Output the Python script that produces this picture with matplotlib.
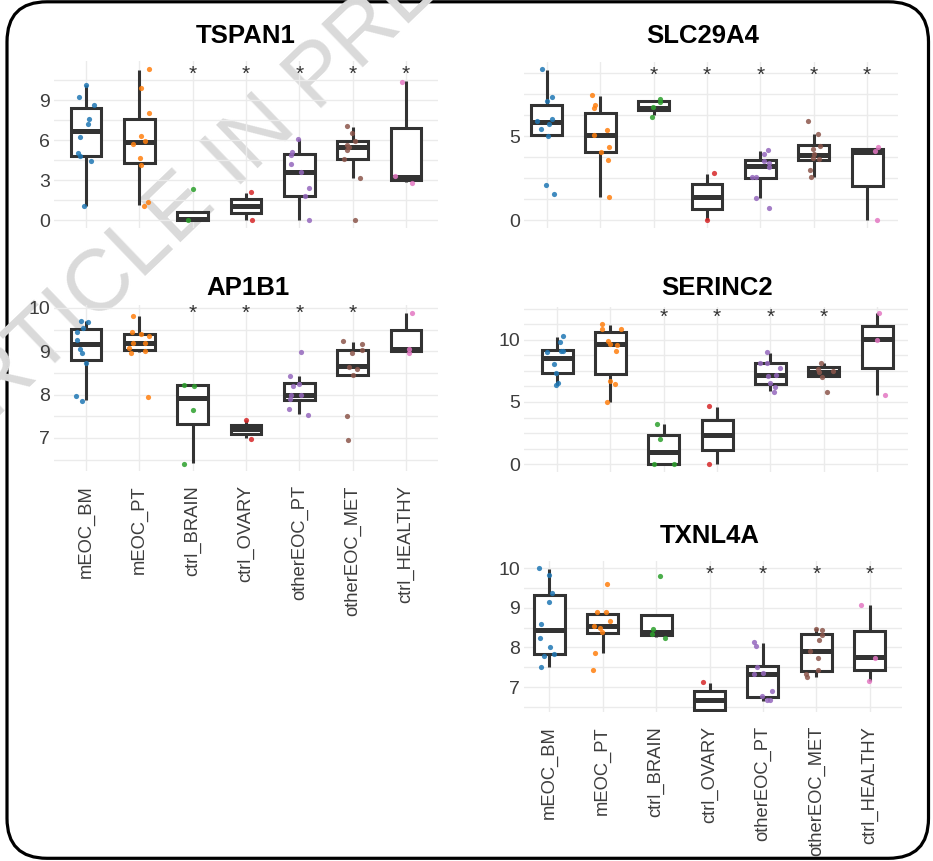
import matplotlib
matplotlib.use('Agg')
import matplotlib.pyplot as plt
from matplotlib.patches import FancyBboxPatch

plt.rcParams['font.family'] = ['Liberation Sans', 'DejaVu Sans']

groups = ['mEOC_BM', 'mEOC_PT', 'ctrl_BRAIN', 'ctrl_OVARY',
          'otherEOC_PT', 'otherEOC_MET', 'ctrl_HEALTHY']
colors = ['#1f77b4', '#ff7f0e', '#2ca02c', '#d62728',
          '#9467bd', '#8c564b', '#e377c2']

# ---------------- TSPAN1 ----------------
# box stats per group: [whisker low, q1, median, q3, whisker high]
tspan1_box = [[1.07, 4.83, 6.68, 8.40, 10.10],
              [1.10, 4.25, 5.82, 7.60, 11.25],
              [0.00, 0.00, 0.05, 0.60, 0.60],
              [0.00, 0.50, 1.02, 1.58, 2.05],
              [0.00, 1.80, 3.60, 4.93, 6.05],
              [3.18, 4.55, 5.50, 5.95, 7.00],
              [2.88, 3.00, 3.25, 6.88, 10.40]]
tspan1_pts = [[10.1, 9.25, 8.6, 7.6, 7.2, 6.2, 5.0, 4.8, 4.4, 1.07],
              [11.3, 9.9, 8.0, 6.3, 5.95, 5.72, 4.68, 4.15, 1.38, 1.07],
              [2.3, 0.0],
              [2.08, 0.0],
              [6.08, 5.1, 4.9, 4.18, 3.6, 2.42, 1.8, 0.0],
              [7.05, 6.55, 5.93, 5.6, 5.5, 5.22, 4.6, 3.15, 0.0],
              [10.38, 3.28, 2.78]]
tspan1_jit = [[0.0, -0.125, 0.156, 0.06, 0.044, -0.106, -0.156, -0.11, 0.094, -0.04],
              [0.19, 0.04, 0.19, 0.03, 0.11, -0.11, 0.01, 0.03, 0.16, 0.09],
              [0.0, -0.09],
              [0.10, 0.11],
              [-0.03, -0.14, -0.16, -0.16, 0.04, 0.19, 0.11, 0.19],
              [-0.11, -0.02, 0.05, -0.11, -0.06, -0.10, -0.16, 0.14, 0.05],
              [-0.08, -0.20, 0.11]]
tspan1_sig = [0, 0, 1, 1, 1, 1, 1]
tspan1_star = 11.38

# ---------------- AP1B1 ----------------
ap1b1_box = [[7.88, 8.79, 9.17, 9.52, 9.69],
             [8.98, 9.02, 9.19, 9.40, 9.81],
             [6.42, 7.33, 7.92, 8.22, 8.22],
             [7.00, 7.08, 7.20, 7.31, 7.41],
             [7.55, 7.88, 8.00, 8.27, 8.42],
             [8.46, 8.46, 8.65, 9.02, 9.22],
             [9.00, 9.00, 9.05, 9.48, 9.88]]
ap1b1_pts = [[9.69, 9.68, 9.54, 9.45, 9.27, 9.05, 8.96, 8.73, 7.96, 7.86],
             [9.82, 9.45, 9.41, 9.35, 9.19, 9.19, 9.08, 9.0, 8.95, 7.94],
             [8.23, 8.21, 7.64, 6.41],
             [7.41, 6.98],
             [8.98, 8.44, 8.25, 8.21, 7.99, 7.98, 7.9, 7.67, 7.54],
             [9.23, 9.17, 9.02, 8.95, 8.64, 8.59, 8.46, 7.5, 6.95],
             [9.88, 9.05, 8.96]]
ap1b1_jit = [[-0.09, 0.03, -0.05, -0.16, -0.16, -0.11, -0.075, 0.006, -0.19, -0.075],
             [-0.11, -0.14, 0.04, 0.19, -0.125, 0.11, -0.19, 0.11, -0.15, 0.17],
             [-0.16, 0.02, 0.01, -0.16],
             [0.0, 0.10],
             [0.025, -0.17, 0.0, -0.12, -0.16, 0.04, -0.17, -0.19, 0.16],
             [-0.175, 0.17, 0.175, -0.01, -0.06, 0.09, 0.0, -0.10, -0.09],
             [0.11, 0.05, 0.06]]
ap1b1_sig = [0, 0, 1, 1, 1, 1, 0]
ap1b1_star = 10.02

# ---------------- SLC29A4 ----------------
slc29a4_box = [[5.00, 5.06, 5.81, 6.83, 8.93],
               [1.39, 4.07, 5.06, 6.35, 7.40],
               [6.25, 6.55, 6.69, 7.08, 7.14],
               [0.00, 0.63, 1.39, 2.12, 2.74],
               [1.33, 2.50, 3.20, 3.55, 4.10],
               [2.58, 3.57, 3.87, 4.44, 5.10],
               [0.00, 2.04, 4.07, 4.23, 4.23]]
slc29a4_pts = [[8.97, 7.34, 7.08, 5.99, 5.87, 5.73, 5.42, 5.0, 2.06, 1.53],
               [7.44, 6.83, 6.69, 5.36, 5.08, 4.33, 4.03, 3.57, 1.39],
               [7.2, 7.0, 6.75, 6.13],
               [2.78, 0.0],
               [4.15, 3.93, 3.51, 3.39, 3.13, 2.56, 2.56, 1.31, 0.69],
               [5.89, 5.14, 4.42, 4.25, 3.91, 3.69, 3.65, 3.0, 2.56],
               [4.35, 4.13, 0.0]]
slc29a4_jit = [[-0.09, 0.09, 0.01, 0.10, -0.19, 0.04, -0.11, 0.025, -0.02, 0.125],
               [-0.16, -0.09, -0.11, 0.125, -0.125, 0.17, 0.02, 0.14, 0.16],
               [0.125, 0.11, -0.01, -0.04],
               [0.14, 0.0],
               [0.14, 0.075, 0.06, 0.17, 0.17, -0.15, -0.075, -0.075, 0.16],
               [-0.11, 0.075, 0.11, -0.02, 0.0, -0.02, 0.10, -0.075, -0.06],
               [0.20, 0.14, 0.19]]
slc29a4_sig = [0, 0, 1, 1, 1, 1, 1]
slc29a4_star = 8.97

# ---------------- SERINC2 ----------------
serinc2_box = [[6.37, 7.31, 8.52, 9.19, 10.27],
               [5.03, 7.23, 9.65, 10.67, 11.21],
               [0.00, 0.00, 0.97, 2.37, 3.20],
               [0.00, 1.13, 2.34, 3.55, 4.62],
               [5.89, 6.45, 7.18, 8.12, 8.98],
               [7.12, 7.12, 7.45, 7.80, 8.12],
               [5.56, 7.77, 10.05, 11.13, 12.15]]
serinc2_pts = [[10.32, 9.87, 9.14, 9.11, 9.06, 8.06, 7.37, 6.53, 6.4],
               [11.26, 10.86, 10.86, 9.95, 9.68, 9.6, 9.09, 6.69, 6.45, 5.03],
               [3.25, 2.02, 0.0, 0.0],
               [4.68, 0.0],
               [9.03, 8.17, 8.12, 7.72, 7.18, 7.12, 6.56, 6.18, 5.81],
               [8.17, 7.66, 7.47, 7.45, 7.04, 5.78],
               [12.2, 10.0, 5.59]]
serinc2_jit = [[0.11, 0.05, 0.08, 0.11, -0.19, -0.06, -0.025, 0.025, -0.02],
               [-0.15, -0.16, 0.19, -0.04, 0.0, 0.12, 0.10, -0.006, 0.09, -0.06],
               [-0.13, -0.075, -0.19, 0.19],
               [-0.15, -0.15],
               [-0.06, -0.06, -0.20, 0.175, 0.10, -0.04, 0.0, 0.09, 0.075],
               [-0.06, -0.11, 0.17, -0.09, -0.04, 0.06],
               [0.03, 0.0, 0.15]]
serinc2_sig = [0, 0, 1, 1, 1, 1, 0]
serinc2_star = 12.37

# ---------------- TXNL4A ----------------
txnl4a_box = [[7.50, 7.84, 8.43, 9.31, 9.98],
              [7.86, 8.37, 8.53, 8.83, 8.83],
              [8.25, 8.30, 8.39, 8.81, 8.81],
              [6.22, 6.42, 6.67, 6.91, 7.11],
              [6.65, 6.76, 7.34, 7.53, 8.11],
              [7.25, 7.40, 7.92, 8.34, 8.49],
              [7.15, 7.42, 7.76, 8.40, 9.06]]
txnl4a_pts = [[10.0, 9.82, 9.37, 9.15, 8.6, 8.23, 8.01, 7.82, 7.78, 7.5],
              [9.61, 8.88, 8.88, 8.66, 8.54, 8.5, 8.38, 7.85, 7.42],
              [9.79, 8.47, 8.33, 8.24],
              [7.13, 6.21],
              [8.13, 8.03, 7.51, 7.36, 7.34, 6.91, 6.78, 6.68, 6.66],
              [8.46, 8.43, 8.32, 8.18, 7.92, 7.73, 7.44, 7.32, 7.24],
              [9.06, 7.74, 7.14]]
txnl4a_jit = [[-0.19, -0.01, 0.06, 0.0, -0.15, -0.17, 0.025, 0.09, -0.09, -0.15],
              [0.075, -0.11, 0.06, 0.13, -0.16, -0.04, -0.01, -0.14, -0.175],
              [0.075, -0.05, -0.07, 0.16],
              [-0.13, 0.14],
              [-0.17, -0.14, -0.11, 0.0, -0.175, 0.175, -0.025, 0.08, 0.14],
              [-0.01, 0.10, 0.11, 0.05, -0.125, 0.02, 0.02, -0.20, -0.17],
              [-0.16, 0.09, -0.01]]
txnl4a_sig = [0, 0, 0, 1, 1, 1, 1]
txnl4a_star = 10.0

# ---------------- figure ----------------
W, H = 933, 861
fig = plt.figure(figsize=(W / 100, H / 100), dpi=100)

# background overlay (frame + watermark), pixel coordinates
bg = fig.add_axes([0, 0, 1, 1], zorder=-5)
bg.set_xlim(0, W)
bg.set_ylim(H, 0)
bg.axis('off')
bg.text(226, 168, 'ARTICLE IN PRESS', rotation=43.8, rotation_mode='anchor',
        ha='center', va='center', fontsize=63, color='#dadada')
bg.add_patch(FancyBboxPatch((7, 1.8), 921.5, 856.5,
                            boxstyle='round,pad=0,rounding_size=40',
                            fill=False, edgecolor='black', linewidth=2.3))

INK = '#333333'
TICK = '#3d3d3d'
GRID = '#ebebeb'


def axes_px(left, right, top, bottom):
    return fig.add_axes([left / W, 1 - bottom / H, (right - left) / W, (bottom - top) / H])


def panel(ax, title, title_xy, box, pts, jit, sig, star_y, xlim, ylim,
          grid_vals, tick_vals, show_x):
    ax.patch.set_visible(False)
    for s in ax.spines.values():
        s.set_visible(False)
    stats = [dict(whislo=b[0], q1=b[1], med=b[2], q3=b[3], whishi=b[4], fliers=[])
             for b in box]
    ax.bxp(stats, positions=list(range(len(groups))), widths=0.58,
           showfliers=False, showcaps=False, patch_artist=True, manage_ticks=False,
           boxprops=dict(facecolor='white', edgecolor=INK, linewidth=2.2),
           whiskerprops=dict(color=INK, linewidth=2.2, solid_capstyle='butt'),
           medianprops=dict(color=INK, linewidth=3.6, solid_capstyle='butt'),
           zorder=2)
    for i, (vals, offs) in enumerate(zip(pts, jit)):
        ax.scatter([i + o for o in offs], vals, s=14, color=colors[i],
                   alpha=0.85, linewidths=0, zorder=3)
    for i, flag in enumerate(sig):
        if flag:
            ax.annotate('*', (i, star_y), xytext=(0, -8.5), textcoords='offset points',
                        ha='center', va='baseline', fontsize=15, color=INK, zorder=4)
    ax.set_xlim(*xlim)
    ax.set_ylim(*ylim)
    ax.set_xticks(range(len(groups)))
    ax.set_yticks(tick_vals)
    ax.set_yticklabels([f'{v:g}' for v in tick_vals])
    ax.set_yticks(grid_vals, minor=True)
    ax.tick_params(axis='both', which='both', length=0)
    ax.tick_params(axis='y', labelsize=14, labelcolor=TICK, pad=3)
    ax.grid(True, which='both', color=GRID, linewidth=1.0, zorder=0)
    ax.set_axisbelow(True)
    if show_x:
        ax.set_xticklabels(groups, rotation=90, fontsize=13.2, color=TICK)
        ax.tick_params(axis='x', pad=10)
    else:
        ax.set_xticklabels([])
    fig.text(title_xy[0] / W, 1 - title_xy[1] / H, title, ha='center', va='center',
             fontsize=18.5, fontweight='bold', color='black')


def steps(lo, hi, step):
    n = int(round((hi - lo) / step))
    return [lo + k * step for k in range(n + 1)]


ax1 = axes_px(54, 438, 61.4, 228)
panel(ax1, 'TSPAN1', (246, 36), tspan1_box, tspan1_pts, tspan1_jit, tspan1_sig,
      tspan1_star, (-0.6, 6.6), (-0.6, 11.9), steps(0, 10.5, 1.5), [0, 3, 6, 9], False)

ax2 = axes_px(54, 438, 304.5, 471.3)
panel(ax2, 'AP1B1', (248, 288), ap1b1_box, ap1b1_pts, ap1b1_jit, ap1b1_sig,
      ap1b1_star, (-0.6, 6.6), (6.23, 10.08), steps(6.5, 10, 0.5), [7, 8, 9, 10], True)

ax3 = axes_px(524, 898, 62.1, 228.4)
panel(ax3, 'SLC29A4', (703, 36), slc29a4_box, slc29a4_pts, slc29a4_jit, slc29a4_sig,
      slc29a4_star, (-0.43, 6.58), (-0.5, 9.4), steps(0, 8.75, 1.25), [0, 5], False)

ax4 = axes_px(524, 908, 306.5, 471.7)
panel(ax4, 'SERINC2', (717, 288), serinc2_box, serinc2_pts, serinc2_jit, serinc2_sig,
      serinc2_star, (-0.62, 6.58), (-0.62, 12.7), steps(0, 12.5, 1.25), [0, 5, 10], False)

ax5 = axes_px(524, 902, 560.5, 712)
panel(ax5, 'TXNL4A', (710, 536), txnl4a_box, txnl4a_pts, txnl4a_jit, txnl4a_sig,
      txnl4a_star, (-0.47, 6.6), (6.37, 10.19), steps(6.5, 10, 0.5), [7, 8, 9, 10], True)

fig.savefig('out.png', dpi=100)
